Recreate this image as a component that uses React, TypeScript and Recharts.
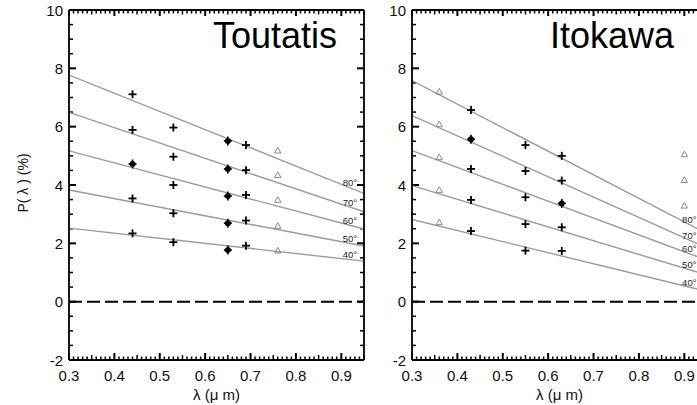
import React from 'react';
import { ComposedChart, Line, Scatter, XAxis, YAxis, ReferenceLine } from 'recharts';

// ---------- data ----------
const angleLabels = ['40°', '50°', '60°', '70°', '80°'];

const xMajor = [0.3, 0.4, 0.5, 0.6, 0.7, 0.8, 0.9];
const xMajorLabels = ['0.3', '0.4', '0.5', '0.6', '0.7', '0.8', '0.9'];
const yMajor = [-2, 0, 2, 4, 6, 8, 10];
const yMajorLabels = ['-2', '0', '2', '4', '6', '8', '10'];

// Toutatis (values ordered 40°,50°,60°,70°,80°)
const tLam = [0.44, 0.53, 0.65, 0.69, 0.76];
const tFitAt030 = [2.52, 3.83, 5.17, 6.49, 7.77];
const tFitAt095 = [1.39, 1.91, 2.49, 3.08, 3.71];
const tAt044 = [2.34, 3.54, 4.72, 5.89, 7.11];
const tAt053 = [2.04, 3.03, 4.0, 4.97, 5.97];
const tAt065 = [1.77, 2.69, 3.62, 4.55, 5.51];
const tAt069 = [1.92, 2.78, 3.66, 4.51, 5.37];
const tAt076 = [1.75, 2.6, 3.49, 4.34, 5.18];

// Itokawa
const iLam = [0.36, 0.43, 0.55, 0.63, 0.9];
const iFitAt030 = [2.82, 3.98, 5.18, 6.38, 7.58];
const iFitAt095 = [0.35, 0.91, 1.42, 1.84, 2.33];
const iAt036 = [2.72, 3.83, 4.95, 6.08, 7.2];
const iAt043 = [2.42, 3.49, 4.55, 5.57, 6.57];
const iAt055 = [1.75, 2.66, 3.58, 4.48, 5.37];
const iAt063 = [1.74, 2.55, 3.37, 4.15, 5.0];
const iAt090 = [3.29, 4.17, 5.05]; // 60°,70°,80°

const zeroLine = [0, 0];

// ---------- helpers ----------
const X0 = 0.3;
const X1 = 0.95;
const Y0 = -2;
const Y1 = 10;
const PLOT_W = 295;
const PLOT_H = 350;
const near = (a: number, b: number) => Math.abs(a - b) < 1e-6;

const xAll: number[] = [];
for (let i = 30; i <= 95; i++) xAll.push(i / 100);
const xMidTicks = xAll.filter((v) => !xMajor.some((m) => near(m, v)) && near(v * 20, Math.round(v * 20)));
const xMinorTicks = xAll.filter((v) => !near(v * 20, Math.round(v * 20)));
const yAll: number[] = [];
for (let i = -4; i <= 20; i++) yAll.push(i / 2);
const yMinorTicks = yAll.filter((v) => !yMajor.some((m) => near(m, v)));

const pxY = (px: number) => (px * (Y1 - Y0)) / PLOT_H;
const pxX = (px: number) => (px * (X1 - X0)) / PLOT_W;

type Seg = [{ x: number; y: number }, { x: number; y: number }];
function buildTickSegs(): { segs: Seg[]; w: number }[] {
  const major: Seg[] = [];
  const minor: Seg[] = [];
  xMajor.forEach((v) => {
    major.push([{ x: v, y: Y0 }, { x: v, y: Y0 + pxY(7) }]);
    major.push([{ x: v, y: Y1 }, { x: v, y: Y1 - pxY(6) }]);
  });
  xMidTicks.forEach((v) => {
    minor.push([{ x: v, y: Y0 }, { x: v, y: Y0 + pxY(5) }]);
    minor.push([{ x: v, y: Y1 }, { x: v, y: Y1 - pxY(4.5) }]);
  });
  xMinorTicks.forEach((v) => {
    minor.push([{ x: v, y: Y0 }, { x: v, y: Y0 + pxY(3.5) }]);
    minor.push([{ x: v, y: Y1 }, { x: v, y: Y1 - pxY(3.5) }]);
  });
  yMajor.forEach((v) => {
    major.push([{ x: X0, y: v }, { x: X0 + pxX(7), y: v }]);
    major.push([{ x: X1, y: v }, { x: X1 - pxX(7), y: v }]);
  });
  yMinorTicks.forEach((v) => {
    minor.push([{ x: X0, y: v }, { x: X0 + pxX(4), y: v }]);
    minor.push([{ x: X1, y: v }, { x: X1 - pxX(4), y: v }]);
  });
  return [
    { segs: major, w: 2 },
    { segs: minor, w: 1.5 },
  ];
}
const tickSegSets = buildTickSegs();

const FONT = '"Liberation Sans", Arial, Helvetica, sans-serif';
const frame = { stroke: '#000', strokeWidth: 1.8 };

type Group = { lam: number; vals: number[]; kind: 'plus' | 'dot' | 'tri'; bold?: number[]; offset?: number };

function XLabelTick(props: any) {
  const { x, y, payload } = props;
  const mi = xMajor.findIndex((m) => near(m, payload.value));
  if (mi < 0) return <g />;
  return (
    <text x={x} y={y + 21} textAnchor="middle" fontSize={15} fill="#111" fontFamily={FONT}>
      {xMajorLabels[mi]}
    </text>
  );
}

function YLabelTick(props: any) {
  const { x, y, payload } = props;
  const mi = yMajor.findIndex((m) => near(m, payload.value));
  if (mi < 0) return <g />;
  return (
    <text x={x - 6} y={y + 5.5} textAnchor="end" fontSize={15} fill="#111" fontFamily={FONT}>
      {yMajorLabels[mi]}
    </text>
  );
}

const PlusShape = (p: any) => {
  const { cx, cy } = p;
  return (
    <g>
      <line x1={cx - 4} x2={cx + 4} y1={cy} y2={cy} stroke="#000" strokeWidth={1.8} />
      <line x1={cx} x2={cx} y1={cy - 4} y2={cy + 4} stroke="#000" strokeWidth={1.8} />
    </g>
  );
};
const DotShape = (p: any) => {
  const { cx, cy } = p;
  return (
    <g>
      <circle cx={cx} cy={cy} r={3} fill="#000" />
      <line x1={cx - 4} x2={cx + 4} y1={cy} y2={cy} stroke="#000" strokeWidth={1.6} />
      <line x1={cx} x2={cx} y1={cy - 4.5} y2={cy + 4.5} stroke="#000" strokeWidth={1.6} />
    </g>
  );
};
const TriShape = (p: any) => {
  const { cx, cy } = p;
  return (
    <path
      d={`M${cx},${cy - 3.2} L${cx + 3.2},${cy + 2.4} L${cx - 3.2},${cy + 2.4} Z`}
      fill="none"
      stroke="#8a8a8a"
      strokeWidth={1}
    />
  );
};

type PanelProps = {
  title: string;
  titleDx: number;
  fitStart: number[];
  fitEnd: number[];
  groups: Group[];
  labelLam: number;
  showYTitle: boolean;
};

function Panel({ title, titleDx, fitStart, fitEnd, groups, labelLam, showYTitle }: PanelProps) {
  const pluses: { x: number; y: number }[] = [];
  const dots: { x: number; y: number }[] = [];
  const tris: { x: number; y: number }[] = [];
  groups.forEach((g) => {
    g.vals.forEach((v, i) => {
      const idx = i + (g.offset || 0);
      const pt = { x: g.lam, y: v };
      if (g.kind === 'tri') tris.push(pt);
      else if (g.kind === 'dot' || (g.bold && g.bold.includes(idx))) dots.push(pt);
      else pluses.push(pt);
    });
  });
  const labels = angleLabels.map((t, i) => ({
    x: labelLam,
    y: fitStart[i] + ((fitEnd[i] - fitStart[i]) * (labelLam - X0)) / (X1 - X0),
    t,
  }));

  return (
    <ComposedChart width={380} height={405} margin={{ top: 9, right: 15, bottom: 1, left: 19 }}>
      <XAxis
        xAxisId="b"
        dataKey="x"
        type="number"
        orientation="bottom"
        domain={[X0, X1]}
        allowDataOverflow
        ticks={xMajor}
        interval={0}
        height={44}
        tickSize={0}
        tickMargin={0}
        tickLine={false}
        axisLine={frame}
        tick={(p: any) => <XLabelTick {...p} />}
        label={(p: any) => {
          const vb = p.viewBox || { x: 69, width: 295 };
          return (
            <text
              x={vb.x + vb.width / 2}
              y={400}
              textAnchor="middle"
              fontSize={15}
              fill="#111"
              fontFamily={FONT}
            >
              λ (μ m)
            </text>
          );
        }}
      />
      <XAxis
        xAxisId="t"
        dataKey="x"
        type="number"
        orientation="top"
        domain={[X0, X1]}
        allowDataOverflow
        ticks={xMajor}
        interval={0}
        height={1}
        tickSize={0}
        tickMargin={0}
        tickLine={false}
        tick={false}
        axisLine={frame}
        label={(p: any) => {
          const vb = p.viewBox || { x: 69 };
          return (
            <text x={vb.x + titleDx} y={48} fontSize={36} fill="#000" fontFamily={FONT}>
              {title}
            </text>
          );
        }}
      />
      <YAxis
        yAxisId="l"
        dataKey="y"
        type="number"
        orientation="left"
        domain={[Y0, Y1]}
        allowDataOverflow
        ticks={yMajor}
        interval={0}
        width={50}
        tickSize={0}
        tickMargin={0}
        tickLine={false}
        axisLine={frame}
        tick={(p: any) => <YLabelTick {...p} />}
        label={(p: any) =>
          showYTitle ? (
            <text
              x={23}
              y={183}
              transform="rotate(-90, 23, 183)"
              textAnchor="middle"
              dominantBaseline="central"
              fontSize={14}
              fill="#111"
              fontFamily={FONT}
            >
              P( λ ) (%)
            </text>
          ) : null
        }
      />
      <YAxis
        yAxisId="r"
        dataKey="y"
        type="number"
        orientation="right"
        domain={[Y0, Y1]}
        allowDataOverflow
        ticks={yMajor}
        interval={0}
        width={1}
        tickSize={0}
        tickMargin={0}
        tickLine={false}
        tick={false}
        axisLine={frame}
      />

      {tickSegSets.map((set, k) =>
        set.segs.map((seg, j) => (
          <ReferenceLine
            key={'tk' + k + '-' + j}
            xAxisId="b"
            yAxisId="l"
            segment={seg}
            stroke="#000"
            strokeWidth={set.w}
            ifOverflow="visible"
          />
        ))
      )}

      <Line
        xAxisId="t"
        yAxisId="r"
        data={[
          { x: X0, y: zeroLine[0] },
          { x: X1, y: zeroLine[1] },
        ]}
        dataKey="y"
        stroke="#000"
        strokeWidth={2}
        strokeDasharray="13 5"
        dot={false}
        isAnimationActive={false}
      />
      {fitStart.map((s, i) => (
        <Line
          key={'fit' + i}
          xAxisId="b"
          yAxisId="l"
          data={[
            { x: X0, y: s },
            { x: X1, y: fitEnd[i] },
          ]}
          dataKey="y"
          stroke="#9a9a9a"
          strokeWidth={1.4}
          dot={false}
          isAnimationActive={false}
        />
      ))}
      <Scatter xAxisId="b" yAxisId="l" data={tris} dataKey="y" shape={TriShape} isAnimationActive={false} />
      <Scatter xAxisId="b" yAxisId="l" data={pluses} dataKey="y" shape={PlusShape} isAnimationActive={false} />
      <Scatter xAxisId="b" yAxisId="l" data={dots} dataKey="y" shape={DotShape} isAnimationActive={false} />
      <Scatter
        xAxisId="b"
        yAxisId="l"
        data={labels}
        dataKey="y"
        isAnimationActive={false}
        shape={(p: any) => (
          <text
            x={p.cx}
            y={p.cy - 1.5}
            textAnchor="middle"
            fontSize={9.5}
            fill="#222"
            fontFamily={FONT}
          >
            {p.payload ? p.payload.t : ''}
          </text>
        )}
      />
    </ComposedChart>
  );
}

const toutatisGroups: Group[] = [
  { lam: tLam[0], vals: tAt044, kind: 'plus', bold: [2] },
  { lam: tLam[1], vals: tAt053, kind: 'plus' },
  { lam: tLam[2], vals: tAt065, kind: 'dot' },
  { lam: tLam[3], vals: tAt069, kind: 'plus' },
  { lam: tLam[4], vals: tAt076, kind: 'tri' },
];

const itokawaGroups: Group[] = [
  { lam: iLam[0], vals: iAt036, kind: 'tri' },
  { lam: iLam[1], vals: iAt043, kind: 'plus', bold: [3] },
  { lam: iLam[2], vals: iAt055, kind: 'plus' },
  { lam: iLam[3], vals: iAt063, kind: 'plus', bold: [2] },
  { lam: iLam[4], vals: iAt090, kind: 'tri', offset: 2 },
];

export default function App() {
  return (
    <div
      style={{
        position: 'absolute',
        left: 0,
        top: 0,
        width: 697,
        height: 405,
        overflow: 'hidden',
        background: '#fff',
      }}
    >
      <div style={{ position: 'absolute', left: 0, top: 0 }}>
        <Panel
          title="Toutatis"
          titleDx={144}
          fitStart={tFitAt030}
          fitEnd={tFitAt095}
          groups={toutatisGroups}
          labelLam={0.919}
          showYTitle={true}
        />
      </div>
      <div style={{ position: 'absolute', left: 343, top: 0 }}>
        <Panel
          title="Itokawa"
          titleDx={138}
          fitStart={iFitAt030}
          fitEnd={iFitAt095}
          groups={itokawaGroups}
          labelLam={0.911}
          showYTitle={false}
        />
      </div>
    </div>
  );
}
